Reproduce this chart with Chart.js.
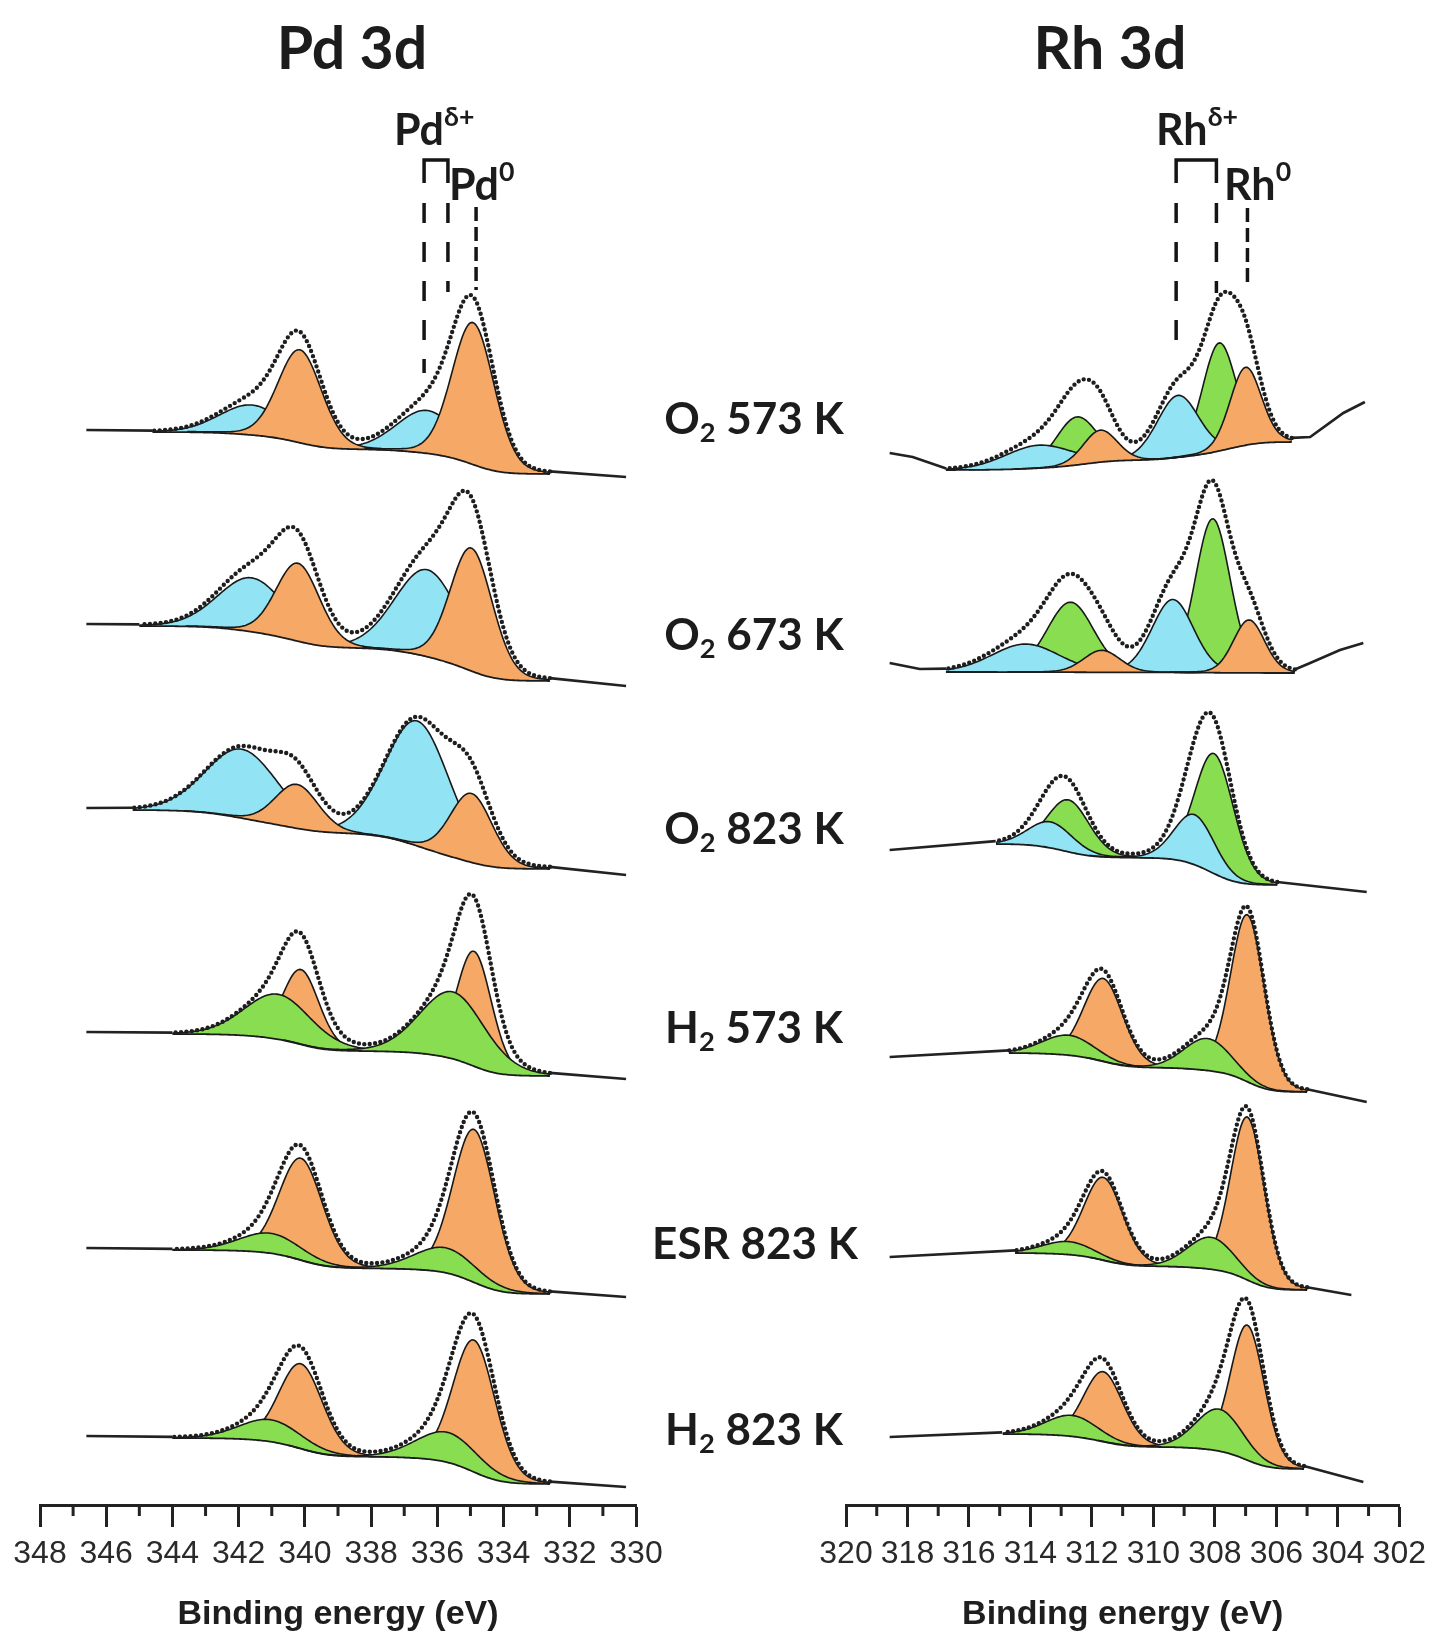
<!DOCTYPE html>
<html lang="en">
<head>
<meta charset="UTF-8">
<title>Pd 3d / Rh 3d XPS</title>
<script src="https://cdn.jsdelivr.net/npm/chart.js"></script>
<style>
  html, body { margin: 0; padding: 0; background: #ffffff; }
  #page { position: relative; width: 1434px; height: 1638px; overflow: hidden; }
  #page canvas { position: absolute; top: 0; }
  #pdChart { left: 0; }
  #rhChart { left: 717px; }
  .txt { position: absolute; font-family: Lato, "Open Sans", sans-serif; font-weight: 700; color: #1c1c1c; line-height: 1; white-space: nowrap; }
  .panel-title { font-size: 59px; transform: translateX(-50%); }
  .sample { font-size: 44px; transform: translateX(-50%); }
  .sample sub { font-size: 0.62em; vertical-align: -0.3em; line-height: 0; }
  .state { font-size: 43px; }
  .state sup { font-size: 0.62em; vertical-align: 0.72em; line-height: 0; }
</style>
</head>
<body>
<div id="page">
  <canvas id="pdChart" width="717" height="1638"></canvas>
  <canvas id="rhChart" width="717" height="1638"></canvas>

  <div class="txt panel-title" style="left:352px; top:17px">Pd 3d</div>
  <div class="txt panel-title" style="left:1110px; top:17px">Rh 3d</div>

  <div class="txt state" style="left:394px; top:107px">Pd<sup>δ+</sup></div>
  <div class="txt state" style="left:449px; top:162px">Pd<sup>0</sup></div>
  <div class="txt state" style="left:1156px; top:107px">Rh<sup>δ+</sup></div>
  <div class="txt state" style="left:1224px; top:162px">Rh<sup>0</sup></div>

  <div class="txt sample" style="left:754px; top:395px">O<sub>2</sub> 573 K</div>
  <div class="txt sample" style="left:754px; top:611px">O<sub>2</sub> 673 K</div>
  <div class="txt sample" style="left:754px; top:805px">O<sub>2</sub> 823 K</div>
  <div class="txt sample" style="left:754px; top:1004px">H<sub>2</sub> 573 K</div>
  <div class="txt sample" style="left:755px; top:1220px">ESR 823 K</div>
  <div class="txt sample" style="left:754px; top:1406px">H<sub>2</sub> 823 K</div>
</div>

<script>
  // spectra from top to bottom: O2 573 K, O2 673 K, O2 823 K, H2 573 K, ESR 823 K, H2 823 K
  // intensities are in arbitrary units, already offset per spectrum
  // fitted peaks: [binding energy (eV), height, FWHM (eV)]

  // ---- Pd 3d ----
  const pdFit = [[344.6, 332.6], [345.0, 332.6], [345.2, 332.6], [344.0, 332.6], [344.0, 332.6], [344.0, 332.6]];
  const pdBgLeft = [1073, 879, 695, 471, 255, 67];
  const pdBgRight = [1031, 824, 636, 429, 211, 21];
  const pdDataScale = [1.07, 1.1, 1.0, 1.0, 1.0, 1.03];
  const pdTailLeft = [[[346.6, 1075]], [[346.6, 881]], [[346.6, 697]], [[346.6, 473]], [[346.6, 257]], [[346.6, 69]]];
  const pdTailRight = [[[330.3, 1028]], [[330.3, 819]], [[330.3, 630]], [[330.3, 426]], [[330.3, 208]], [[330.3, 18]]];
  const pdOrange = [
    [[334.92, 142, 1.5], [340.15, 93, 1.55]],
    [[334.97, 123, 1.5], [340.21, 78, 1.55]],
    [[334.97, 69, 1.5], [340.24, 44, 1.55]],
    [[334.89, 115, 1.25], [340.12, 75, 1.3]],
    [[334.89, 153, 1.5], [340.12, 102, 1.55]],
    [[334.89, 132, 1.5], [340.12, 85, 1.55]]
  ];
  const pdCyan = [
    [[336.3, 43, 2.2], [341.6, 30, 2.3]],
    [[336.3, 87, 2.3], [341.6, 54, 2.4]],
    [[336.6, 125, 2.3], [341.9, 69, 2.6]],
    [], [], []
  ];
  const pdGreen = [
    [], [], [],
    [[335.52, 67, 2.35], [340.8, 45, 2.4]],
    [[335.74, 25, 2.2], [341.03, 20, 2.2]],
    [[335.69, 30, 2.2], [341.03, 22, 2.2]]
  ];
  const pdMarkerEv = [336.4, 335.68, 334.83];
  const pdMarkerTop = [1345, 1345, 1298];
  const pdMarkerEnd = [1132, 1213, 1215];

  // ---- Rh 3d ----
  const rhFit = [[316.74, 305.5], [316.74, 305.4], [315.13, 305.97], [314.7, 305.0], [314.48, 305.0], [314.92, 305.1]];
  const rhBgLeft = [1035, 833, 661, 452, 252, 71];
  const rhBgRight = [1063, 832, 620, 413, 215, 36];
  const rhDataScale = [1.12, 1.12, 1.03, 1.0, 1.0, 1.03];
  const rhTailLeft = [
    [[318.58, 1052], [317.83, 1048]],
    [[318.58, 842], [317.6, 836]],
    [[318.58, 655]], [[318.58, 448]], [[318.58, 248]], [[318.58, 68]]
  ];
  const rhTailRight = [
    [[304.9, 1068], [303.82, 1092], [303.12, 1103]],
    [[304.9, 842], [303.93, 855], [303.17, 862]],
    [[303.06, 613]], [[303.06, 403]], [[303.56, 210]], [[303.17, 23]]
  ];
  const rhOrange = [
    [[307.0, 78, 1.2], [311.73, 32, 1.3]],
    [[306.89, 53, 1.2], [311.68, 22, 1.4]],
    [],
    [[306.94, 167, 1.3], [311.63, 83, 1.5]],
    [[306.94, 163, 1.3], [311.63, 83, 1.5]],
    [[306.94, 135, 1.3], [311.63, 70, 1.5]]
  ];
  const rhCyan = [
    [[309.2, 62, 1.6], [313.73, 23, 2.6]],
    [[309.37, 73, 1.6], [314.16, 28, 2.6]],
    [[308.66, 50, 1.55], [313.35, 26, 1.7]],
    [], [], []
  ];
  const rhGreen = [
    [[307.86, 108, 1.3], [312.49, 48, 1.6]],
    [[308.07, 154, 1.35], [312.7, 70, 1.8]],
    [[308.02, 120, 1.5], [312.76, 52, 1.6]],
    [[308.24, 32, 1.8], [312.76, 20, 2.0]],
    [[308.13, 32, 1.8], [312.76, 13, 2.0]],
    [[307.86, 42, 1.8], [312.65, 21, 2.0]]
  ];
  const rhMarkerEv = [309.26, 307.95, 306.94];
  const rhMarkerTop = [1345, 1345, 1297];
  const rhMarkerEnd = [1165, 1212, 1218];

  // component stacking, back to front (oxidised vs reduced samples)
  const oxLayers = ['green', 'cyan', 'orange'];
  const redLayers = ['orange', 'green', 'cyan'];
  const layerOrder = [oxLayers, oxLayers, oxLayers, redLayers, redLayers, redLayers];

  const STEP = 0.05;
  const COLORS = { cyan: '#92e3f4', green: '#88de50', orange: '#f6a966' };

  // Gaussian-Lorentzian peak as used in the fit
  function profile(pk, x) {
    const d = (x - pk[0]) / pk[2];
    return pk[1] * (0.88 * Math.exp(-4 * Math.LN2 * d * d) + 0.12 / (1 + 4 * d * d));
  }

  function buildSpectrum(ds, p, s) {
    const hi = p.fit[s][0], lo = p.fit[s][1];
    const n = Math.round((hi - lo) / STEP);
    const xs = [];
    for (let i = 0; i <= n; i++) xs.push(+(lo + i * STEP).toFixed(3));
    const comps = { cyan: p.cyan[s], green: p.green[s], orange: p.orange[s] };
    const all = [].concat(p.cyan[s], p.green[s], p.orange[s]);
    const sum = xs.map(x => all.reduce((a, pk) => a + profile(pk, x), 0));
    // Shirley background
    let acc = 0;
    const cum = sum.map(v => (acc += v));
    const bg = xs.map((x, i) => p.bgR[s] + (p.bgL[s] - p.bgR[s]) * cum[i] / acc);
    const meas = xs.map((x, i) => bg[i] + p.scale[s] * sum[i]);

    const bgIndex = ds.length;
    ds.push({
      data: xs.map((x, i) => ({ x, y: bg[i] })),
      borderColor: '#1c1c1c', borderWidth: 1.8, fill: false, order: 4
    });
    layerOrder[s].forEach((name, k) => {
      comps[name].forEach(pk => {
        const pts = [];
        xs.forEach((x, i) => {
          if (Math.abs(x - pk[0]) <= 2.2 * pk[2]) pts.push({ x, y: bg[i] + profile(pk, x) });
        });
        ds.push({
          data: pts, borderColor: '#181818', borderWidth: 1.6,
          backgroundColor: COLORS[name], fill: bgIndex, order: 9 - k
        });
      });
    });
    const left = p.tailL[s].map(t => ({ x: t[0], y: t[1] }));
    left.push({ x: hi, y: meas[n] });
    const right = [{ x: lo, y: meas[0] }].concat(p.tailR[s].map(t => ({ x: t[0], y: t[1] })));
    [left, right].forEach(d => ds.push({ data: d, borderColor: '#222', borderWidth: 2.7, fill: false, order: 3 }));
    ds.push({
      data: xs.map((x, i) => ({ x, y: meas[i] })),
      borderColor: '#1e1e1e', borderWidth: 4.4, borderDash: [0, 5.4], borderCapStyle: 'round',
      fill: false, order: 2
    });
  }

  const markerPlugin = {
    id: 'markers',
    afterDatasetsDraw(chart, args, opts) {
      const x = chart.scales.x, y = chart.scales.y, c = chart.ctx;
      const px = opts.ev.map(v => x.getPixelForValue(v));
      c.save();
      c.strokeStyle = '#151515';
      c.lineWidth = 3.5;
      c.beginPath();
      c.moveTo(px[0], y.getPixelForValue(opts.top[0] - 23));
      c.lineTo(px[0], y.getPixelForValue(opts.top[0]));
      c.lineTo(px[1], y.getPixelForValue(opts.top[1]));
      c.lineTo(px[1], y.getPixelForValue(opts.top[1] - 23));
      c.stroke();
      c.setLineDash([20, 19]);
      for (let i = 0; i < 2; i++) {
        c.beginPath();
        c.moveTo(px[i], y.getPixelForValue(opts.top[i] - 43));
        c.lineTo(px[i], y.getPixelForValue(opts.end[i]));
        c.stroke();
      }
      c.setLineDash([14, 6]);
      c.beginPath();
      c.moveTo(px[2], y.getPixelForValue(opts.top[2]));
      c.lineTo(px[2], y.getPixelForValue(opts.end[2]));
      c.stroke();
      c.restore();
    }
  };

  const minorTicks = {
    id: 'minorTicks',
    afterDraw(chart) {
      const sx = chart.scales.x, c = chart.ctx, b = chart.chartArea.bottom;
      c.save();
      c.strokeStyle = '#222';
      c.lineWidth = 3;
      for (let v = sx.min + 1; v < sx.max; v += 2) {
        const p = sx.getPixelForValue(v);
        c.beginPath();
        c.moveTo(p, b);
        c.lineTo(p, b + 11);
        c.stroke();
      }
      c.restore();
    }
  };

  function makeChart(id, p) {
    const datasets = [];
    for (let s = 0; s < 6; s++) buildSpectrum(datasets, p, s);
    return new Chart(document.getElementById(id), {
      type: 'line',
      data: { datasets },
      options: {
        responsive: false,
        animation: false,
        devicePixelRatio: 1,
        events: [],
        elements: { point: { radius: 0 }, line: { tension: 0 } },
        layout: { padding: { left: p.padL, right: p.padR, top: 0, bottom: 0 } },
        scales: {
          x: {
            type: 'linear', reverse: true, min: p.min, max: p.max,
            afterFit: sc => { sc.height = 133; },
            border: { display: true, color: '#222', width: 3 },
            grid: { drawOnChartArea: false, tickLength: 22, tickWidth: 3, tickColor: '#222' },
            ticks: {
              stepSize: 2, padding: 8, maxRotation: 0, autoSkip: false, color: '#2a2a2a',
              font: { family: 'Liberation Sans', size: 32 }
            },
            title: {
              display: true, text: 'Binding energy (eV)', color: '#1e1e1e',
              font: { family: 'Liberation Sans', size: 34, weight: 'bold' },
              padding: { top: 0, bottom: 3 }
            }
          },
          y: { display: false, min: 0, max: 1505 }
        },
        plugins: {
          legend: { display: false },
          tooltip: { enabled: false },
          markers: { ev: p.markEv, top: p.markTop, end: p.markEnd }
        }
      },
      plugins: [markerPlugin, minorTicks]
    });
  }

  makeChart('pdChart', {
    min: 330, max: 348, padL: 40, padR: 81,
    fit: pdFit, bgL: pdBgLeft, bgR: pdBgRight, scale: pdDataScale,
    tailL: pdTailLeft, tailR: pdTailRight,
    cyan: pdCyan, green: pdGreen, orange: pdOrange,
    markEv: pdMarkerEv, markTop: pdMarkerTop, markEnd: pdMarkerEnd
  });

  makeChart('rhChart', {
    min: 302, max: 320, padL: 129, padR: 31,
    fit: rhFit, bgL: rhBgLeft, bgR: rhBgRight, scale: rhDataScale,
    tailL: rhTailLeft, tailR: rhTailRight,
    cyan: rhCyan, green: rhGreen, orange: rhOrange,
    markEv: rhMarkerEv, markTop: rhMarkerTop, markEnd: rhMarkerEnd
  });
</script>
</body>
</html>
